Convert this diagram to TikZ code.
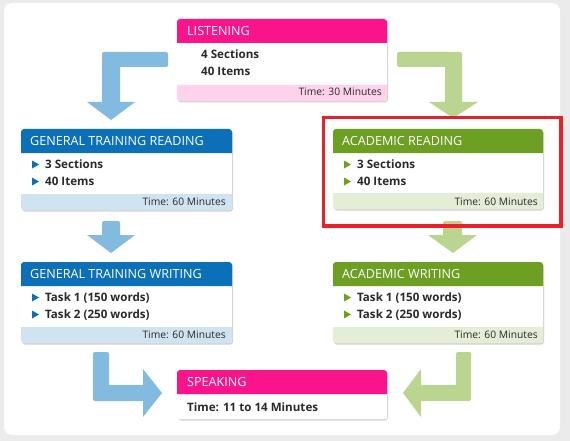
\documentclass[tikz,border=0pt]{standalone}
\usepackage{fontspec}
\setmainfont{Open Sans}
\usetikzlibrary{calc}
\definecolor{bgray}{HTML}{EBEBEB}
\definecolor{hpink}{HTML}{FA148C}
\definecolor{fpink}{HTML}{FDD2EA}
\definecolor{hblue}{HTML}{0B70B8}
\definecolor{fblue}{HTML}{CFE3F1}
\definecolor{hgreen}{HTML}{6C9F22}
\definecolor{fgreen}{HTML}{E4EDD5}
\definecolor{ablue}{HTML}{82BAE0}
\definecolor{agreen}{HTML}{B9D590}
\definecolor{txt}{HTML}{2A2A2A}
\definecolor{hired}{HTML}{E8202A}
\tikzset{
  htext/.style={anchor=base west, inner sep=0pt, text=white, font=\fontsize{12.6}{13}\selectfont},
  btext/.style={anchor=base west, inner sep=0pt, text=txt, font=\fontsize{11.6}{13}\selectfont\bfseries},
  ftext/.style={anchor=base east, inner sep=0pt, text=txt, font=\fontsize{10.3}{11}\selectfont},
  shadowbox/.style={fill=black!18, rounded corners=3pt},
}
% box: #1 name, #2 x1, #3 y1, #4 x2, #5 y2, #6 header bottom, #7 footer top, #8 header col, #9 footer col
\newcommand{\mybox}[9]{%
  \fill[shadowbox] (#2+1,#3+1.5) rectangle (#4+1,#5+1.5);
  \node[inner sep=0pt, minimum width=#4-#2, minimum height=#5-#3, anchor=north west, fill=white, rounded corners=3pt] (#1) at (#2,#3) {};
  \fill[#8] (#2,#6) {[rounded corners=3pt] -- (#2,#3) -- (#4,#3)} -- (#4,#6) -- cycle;
  \fill[#9] (#2,#7) -- (#4,#7) {[rounded corners=3pt] -- (#4,#5) -- (#2,#5)} -- cycle;
}
\newcommand{\bul}[3]{\fill[#1] (#2,#3-7.5) -- (#2+7,#3-3.5) -- (#2,#3+0.5) -- cycle;}
\begin{document}
\begin{tikzpicture}[x=1pt,y=-1pt]
\useasboundingbox (0,0) rectangle (570,441);
\fill[bgray] (0,0) rectangle (570,441);
\fill[white, rounded corners=8pt] (4,3) rectangle (560,435);

% arrows
\fill[ablue] (168,52) [rounded corners=2pt] -- (102,52) [sharp corners] -- (102,102) -- (87,102) -- (111,120) -- (135,102) -- (120,102) -- (120,67) [rounded corners=2pt] -- (168,67) -- cycle;
\fill[agreen] (397,52) [rounded corners=2pt] -- (397,67) [sharp corners] -- (445,67) -- (445,102) -- (429,102) -- (453,118) -- (478,102) -- (462,102) [rounded corners=2pt] -- (462,52) -- cycle;
\fill[ablue] (102,235) [rounded corners=2pt] -- (102,221) -- (120,221) [sharp corners] -- (120,235) -- (135,235) -- (111,253) -- (87,235) -- cycle;
\fill[agreen] (443,235) [rounded corners=2pt] -- (443,221) -- (462,221) [sharp corners] -- (462,235) -- (477,235) -- (453,253) -- (428,235) -- cycle;
\fill[ablue] (93,385) [rounded corners=2pt] -- (93,352) -- (109,352) [sharp corners] -- (109,385) -- (143,385) -- (143,369) -- (162,393) -- (143,417) -- (143,401) [rounded corners=2pt] -- (93,401) -- cycle;
\fill[agreen] (471,385) [rounded corners=2pt] -- (471,352) -- (456,352) [sharp corners] -- (456,385) -- (421,385) -- (421,369) -- (403,393) -- (421,417) -- (421,401) [rounded corners=2pt] -- (471,401) -- cycle;

% Listening
\mybox{lis}{177}{19}{387}{101}{43}{85}{hpink}{fpink}
\node[htext] (lish) at (187,35.5) {LISTENING};
\node[btext] (lis1) at (201,59) {4 Sections};
\node[btext] (lis2) at (201,76) {40 Items};
\node[ftext] (lisf) at (382,96) {Time: 30 Minutes};

% General training reading
\mybox{gtr}{21}{129}{232}{210}{153}{194}{hblue}{fblue}
\node[htext] (gtrh) at (30,145.5) {GENERAL TRAINING READING};
\bul{hblue}{32}{168}
\node[btext] (gtr1) at (45,168) {3 Sections};
\bul{hblue}{32}{185}
\node[btext] (gtr2) at (45,185) {40 Items};
\node[ftext] (gtrf) at (226,205) {Time: 60 Minutes};

% Academic reading
\mybox{acr}{333}{129}{543}{209}{153}{193}{hgreen}{fgreen}
\node[htext] (acrh) at (342,145.5) {ACADEMIC READING};
\bul{hgreen}{344}{168}
\node[btext] (acr1) at (357,168) {3 Sections};
\bul{hgreen}{344}{185}
\node[btext] (acr2) at (357,185) {40 Items};
\node[ftext] (acrf) at (538,205) {Time: 60 Minutes};
\draw[hired, line width=3.5pt] (323.5,117.5) rectangle (561,226);

% General training writing
\mybox{gtw}{21}{262}{232}{343}{286}{327}{hblue}{fblue}
\node[htext] (gtwh) at (30,278.5) {GENERAL TRAINING WRITING};
\bul{hblue}{32}{301}
\node[btext] (gtw1) at (45,301) {Task 1 (150 words)};
\bul{hblue}{32}{318}
\node[btext] (gtw2) at (45,318) {Task 2 (250 words)};
\node[ftext] (gtwf) at (226,338) {Time: 60 Minutes};

% Academic writing
\mybox{acw}{333}{262}{543}{343}{286}{327}{hgreen}{fgreen}
\node[htext] (acwh) at (342,278.5) {ACADEMIC WRITING};
\bul{hgreen}{344}{301}
\node[btext] (acw1) at (357,301) {Task 1 (150 words)};
\bul{hgreen}{344}{318}
\node[btext] (acw2) at (357,318) {Task 2 (250 words)};
\node[ftext] (acwf) at (538,338) {Time: 60 Minutes};

% Speaking
\mybox{spk}{177}{370}{387}{419}{394}{419}{hpink}{white}
\node[htext] (spkh) at (187,386.5) {SPEAKING};
\node[btext] (spk1) at (187,411) {Time: 11 to 14 Minutes};
\end{tikzpicture}
\end{document}
